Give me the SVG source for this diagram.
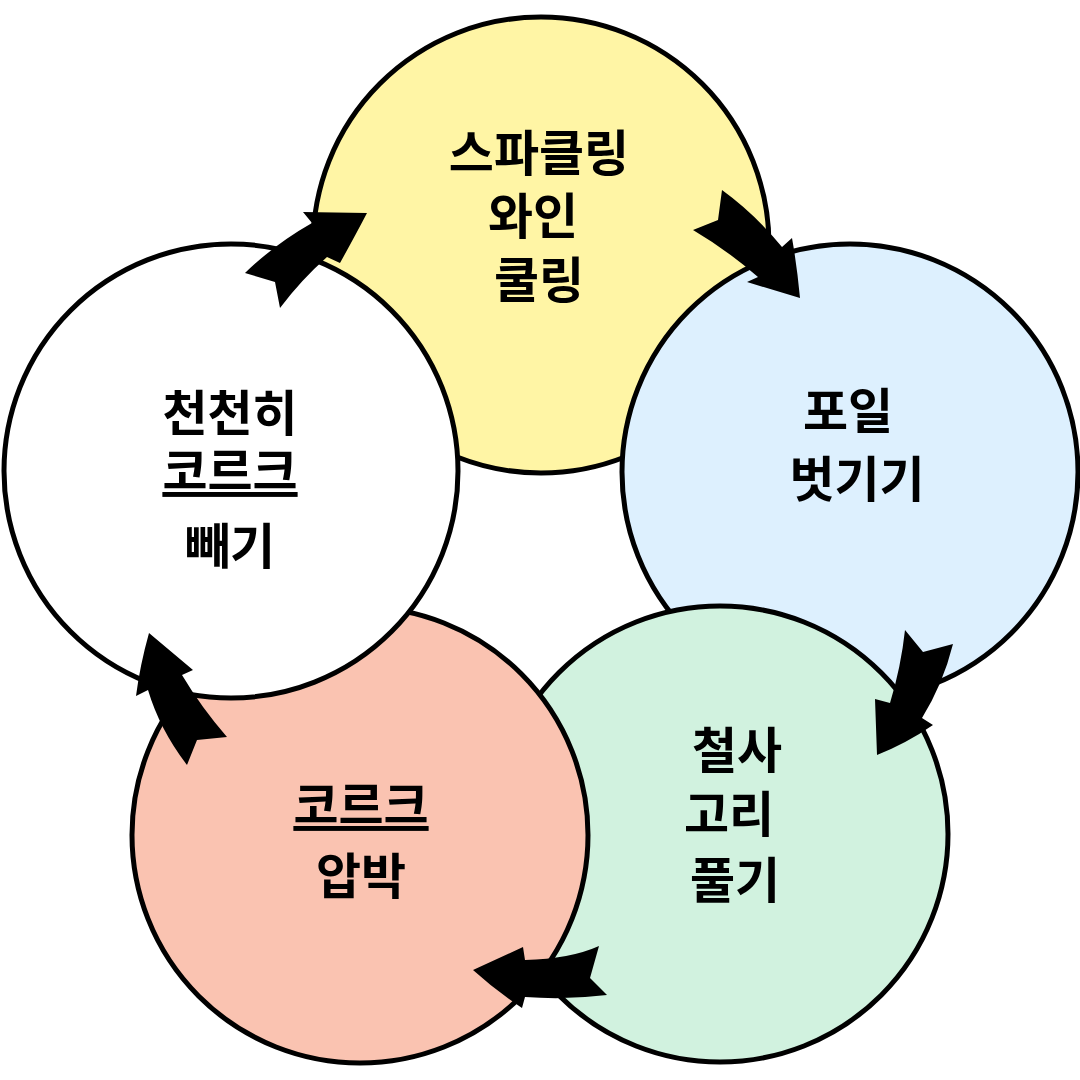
<svg xmlns="http://www.w3.org/2000/svg" width="1080" height="1080" viewBox="0 0 1080 1080">
<style>
.node circle{stroke:#000;stroke-width:5}
.lbl{font-family:"Noto Sans CJK KR","Noto Sans",sans-serif;font-weight:bold;font-size:49px;fill:#000;text-anchor:middle}
.arrow{fill:#000;stroke:none}
</style>
<rect x="0" y="0" width="1080" height="1080" fill="#fff"/>
<g id="node-sparkling" class="node">
<circle cx="541" cy="245" r="228" fill="#FFF5A5"/>
</g>
<g id="node-foil" class="node">
<circle cx="850" cy="472" r="228" fill="#DDF0FE"/>
</g>
<g id="node-wire" class="node">
<circle cx="720" cy="834" r="228" fill="#D1F2DF"/>
</g>
<g id="node-press" class="node">
<circle cx="360" cy="835" r="228" fill="#FAC3B1"/>
</g>
<g id="node-remove" class="node">
<circle cx="231" cy="471" r="227" fill="#FFFFFF"/>
</g>
<g id="labels">
<g id="label-sparkling">
<text class="lbl" x="539" y="171">스파클링</text>
<text class="lbl" x="533" y="234">와인</text>
<text class="lbl" x="539" y="298">쿨링</text>
</g>
<g id="label-foil">
<text class="lbl" x="848" y="429">포일</text>
<text class="lbl" x="857" y="497">벗기기</text>
</g>
<g id="label-wire">
<text class="lbl" x="737" y="768">철사</text>
<text class="lbl" x="729" y="832">고리</text>
<text class="lbl" x="735" y="898">풀기</text>
</g>
<g id="label-press">
<text class="lbl" x="361" y="823" text-decoration="underline">코르크</text>
<text class="lbl" x="361" y="894">압박</text>
</g>
<g id="label-remove">
<text class="lbl" x="230" y="431">천천히</text>
<text class="lbl" x="230" y="489" text-decoration="underline">코르크</text>
<text class="lbl" x="230" y="564">빼기</text>
</g>
</g>
<g id="connectors">
<path class="arrow" d="M245,273 L275,282 L280,308 Q301,280 327,257 L340,263 Q355,236 367,213 L303,212 L312,223 Q275,244 245,273 Z"/>
<path class="arrow" d="M722,190 L718,220 L693,230 Q727,250 758,277 L747,282 L800,298 Q797,266 792,238 L782,247 Q755,214 722,190 Z"/>
<path class="arrow" d="M953,644 L923,652 L905,630 Q901,667 890,703 L875,699 L877,755 Q907,743 933,725 L922,718 Q943,684 953,644 Z"/>
<path class="arrow" d="M599,946 L590,978 L607,995 Q566,1000 525,997 L522,1008 Q495,990 473,970 L523,947 L525,960 Q570,959 599,946 Z"/>
<path class="arrow" d="M187,765 L197,740 L227,737 Q201,707 182,675 L193,670 L149,633 Q140,665 136,696 L148,690 Q160,730 187,765 Z"/>
</g>
</svg>
